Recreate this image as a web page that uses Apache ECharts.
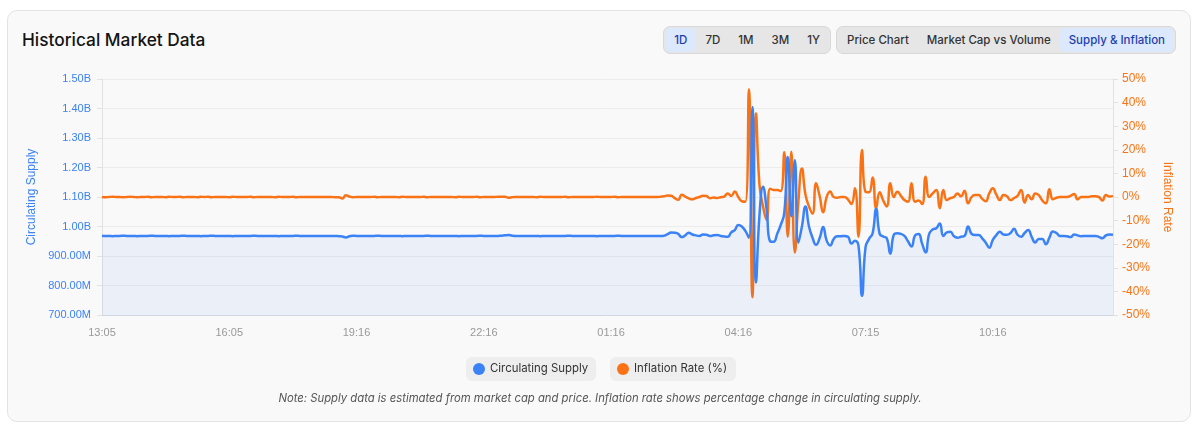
<!DOCTYPE html>
<html>
<head>
<meta charset="utf-8">
<script src="https://cdn.jsdelivr.net/npm/echarts@6/dist/echarts.min.js"></script>
<style>
  html, body { margin:0; padding:0; background:#ffffff; }
  body { width:1200px; height:431px; position:relative; overflow:hidden; font-family:Inter, "Noto Sans", sans-serif; }
  .card { position:absolute; left:7px; top:10px; width:1184px; height:412px; box-sizing:border-box;
          border:1px solid #e3e3e3; border-radius:10px; background:#f9f9f9; }
  .title { position:absolute; left:22px; top:29px; font-size:17.3px; font-weight:500; color:#141414; line-height:22px; }
  .btns { position:absolute; right:24px; top:26px; display:flex; gap:5px; }
  .group { display:flex; background:#e6e6e6; border:1px solid #d8d8d8; border-radius:7px; padding:1px; }
  .btn { padding:5px 9px; font-size:11.5px; font-weight:500; color:#333; line-height:14px; border-radius:5px; }
  .btn.active { background:#dce8fb; color:#1e40af; }
  #chart { position:absolute; left:0; top:0; width:1200px; height:431px; }
  .note { position:absolute; left:0; top:391px; width:1200px; text-align:center; font-size:11.3px; font-style:italic; color:#555; line-height:14px; }
</style>
</head>
<body>
<div class="card"></div>
<div class="title">Historical Market Data</div>
<div class="btns">
  <div class="group">
    <div class="btn active">1D</div><div class="btn">7D</div><div class="btn">1M</div><div class="btn">3M</div><div class="btn">1Y</div>
  </div>
  <div class="group">
    <div class="btn">Price Chart</div><div class="btn">Market Cap vs Volume</div><div class="btn active">Supply &amp; Inflation</div>
  </div>
</div>
<div id="chart"></div>
<div class="note">Note: Supply data is estimated from market cap and price. Inflation rate shows percentage change in circulating supply.</div>
<script>
// Time categories (5-minute samples)
const categories = (
 "13:05 13:10 13:15 13:20 13:25 13:30 13:35 13:40 13:45 13:50 13:55 14:00 14:05 14:10 14:15 14:20 14:25 14:30 14:35 14:40 14:45 14:50 14:55 15:00 15:05 15:10 15:15 15:20 15:25 15:30 15:35 15:40 15:45 15:50 15:55 16:00 " +
 "16:05 16:10 16:15 16:20 16:25 16:30 16:35 16:40 16:45 16:50 16:55 17:00 17:05 17:10 17:15 17:20 17:25 17:30 17:35 17:40 17:45 17:50 17:55 18:00 18:05 18:10 18:15 18:20 18:25 18:30 18:35 18:40 18:45 18:50 18:55 19:11 " +
 "19:16 19:21 19:26 19:31 19:36 19:41 19:46 19:51 19:56 20:01 20:06 20:11 20:16 20:21 20:26 20:31 20:36 20:41 20:46 20:51 20:56 21:01 21:06 21:11 21:16 21:21 21:26 21:31 21:36 21:41 21:46 21:51 21:56 22:01 22:06 22:11 " +
 "22:16 22:21 22:26 22:31 22:36 22:41 22:46 22:51 22:56 23:01 23:06 23:11 23:16 23:21 23:26 23:31 23:36 23:41 23:46 23:51 23:56 00:01 00:06 00:11 00:16 00:21 00:26 00:31 00:36 00:41 00:46 00:51 00:56 01:01 01:06 01:11 " +
 "01:16 01:21 01:26 01:31 01:36 01:41 01:46 01:51 01:56 02:01 02:06 02:11 02:16 02:21 02:26 02:31 02:36 02:41 02:46 02:51 02:56 03:01 03:06 03:11 03:16 03:21 03:26 03:31 03:36 03:41 03:46 03:51 03:56 04:01 04:06 04:11 " +
 "04:16 04:21 04:26 04:31 04:36 04:41 04:46 04:51 04:56 05:01 05:06 05:11 05:16 05:21 05:26 05:31 05:36 05:41 05:46 05:51 05:56 06:01 06:06 06:11 06:16 06:21 06:26 06:31 06:36 06:41 06:46 06:51 06:56 07:01 07:06 07:11 " +
 "07:15 07:20 07:25 07:30 07:35 07:40 07:45 07:50 07:55 08:00 08:05 08:10 08:15 08:20 08:25 08:30 08:35 08:40 08:45 08:50 08:55 09:00 09:05 09:10 09:15 09:20 09:25 09:30 09:35 09:40 09:45 09:50 09:55 10:00 10:05 10:10 " +
 "10:16 10:21 10:26 10:31 10:36 10:41 10:46 10:51 10:56 11:01 11:06 11:11 11:16 11:21 11:26 11:31 11:36 11:41 11:46 11:51 11:56 12:01 12:06 12:11 12:16 12:21 12:26 12:31 12:36 12:41 12:46 12:51 12:56 13:01 13:06"
).split(" ");

// x-axis tick labels shown
const xTickLabels = ["13:05","16:05","19:16","22:16","01:16","04:16","07:15","10:16"];

// Circulating supply, in millions
const supply = [
969,968,968,967,968,968,969,968,968,968,
967,968,968,968,969,968,968,968,968,967,
968,968,968,969,968,968,968,968,967,968,
968,969,968,968,968,968,968,967,968,968,
968,968,968,969,968,968,968,968,968,968,
967,968,968,968,968,969,968,968,968,968,
968,968,968,968,968,968,968,967,966,963,
967,969,968,968,968,968,968,968,969,968,
968,968,968,968,968,967,968,968,968,968,
968,968,969,968,968,968,968,968,968,968,
968,967,968,968,968,968,968,969,968,968,
968,968,968,969,970,971,969,968,968,968,
968,968,968,968,967,968,968,968,968,968,
968,968,969,968,968,968,968,968,968,968,
967,968,968,968,968,968,969,968,968,968,
968,968,968,968,968,968,968,968,968,969,
974,980,979,975,964,970,979,973,970,968,
973,972,968,970,971,968,966,965,980,988,
1005,1000,985,962,1405,810,1040,1135,1060,950,
948,975,1005,1045,1236,1035,1225,945,1000,1068,
1000,962,938,960,998,952,936,958,967,967,
968,966,942,952,935,765,930,958,977,1060,
975,966,960,908,972,977,975,968,950,932,
970,975,942,912,975,990,994,1010,968,980,
982,967,962,965,968,1000,975,971,971,960,
945,928,955,971,982,973,972,978,992,972,
965,978,988,965,946,958,958,940,962,983,
978,968,968,967,964,973,970,967,968,968,
968,968,965,960,970,973,972
];

// Inflation rate, percent
const inflation = [
0,-0.1,0,0.1,0,0,-0.1,0,0.1,0,
-0.1,0,0,0.1,-0.1,0,0,0,-0.1,0.1,
0,0,0.1,-0.1,0,0,0,-0.1,0.1,0,
0.1,-0.1,0,0,0,0,-0.1,0.1,0,0,
0,0,0.1,-0.1,0,0,0,0,0,-0.1,
0.1,0,0,0,0.1,-0.1,0,0,0,0,
0,0,0,0,0,0,-0.1,-0.1,-0.6,0.7,
0.2,-0.1,0,0,0,0,0,0.1,-0.1,0,
0,0,0,0,-0.1,0.1,0,0,0,0,
0,0.1,-0.1,0,0,0,0,0,0,0,
-0.1,0.1,0,0,0,0,0.1,-0.1,0,0,
0,0,0.1,0.1,0.1,-0.3,-0.1,0,0,0,
0,0,0,-0.1,0.1,0,0,0,0,0,
0,0.1,-0.1,0,0,0,0,0,0,0,
0.1,0,0,0,0,0.1,-0.1,0,0,0,
0,0,0,0,0,0,0,0,0.1,0.3,
0.6,0.5,-0.5,-1.2,1.0,0.2,-0.6,-1.0,-0.4,0,
0.5,0.4,-0.5,-0.2,-0.4,-0.1,0.2,1.5,0.4,2.3,
0,-1.8,-2.0,45.7,-42.5,35.5,5,-4,-9.7,3.5,
3.0,3.0,2.5,19,-16.8,19.2,-23.5,-2,12.1,1.0,
-4.0,-7.0,5.8,0.5,-6.5,0,2.3,0,-0.3,0,
0,-1,-3,3.7,-16.8,19.9,2.2,2.0,8.3,-4.8,
2.0,-1.5,-4.0,5.8,0,2.2,0.5,-1.3,-2.0,5.8,
-2.0,-1.5,-3.0,8.6,0,1.5,3.0,-4.8,3.0,-1.3,
-0.5,0,1.5,0.3,2.7,-2.7,0,0.8,0.8,-0.8,
-1.8,1.5,3.7,1.0,-1.3,0.8,0.3,-1.3,-0.5,0.5,
3.0,-2.4,0.8,-1.0,1.5,0.8,-1.5,-2.7,3.3,-1.0,
-0.3,0,0,0,0.5,1.3,-1.0,0,0,0,
0.3,0.3,0,-1.5,0.8,0.2,0.5
];

const BLUE = '#3b82f6', ORANGE = '#f97316';
const chart = echarts.init(document.getElementById('chart'), null, {renderer:'canvas'});
const axisFont = '"Liberation Sans", Arial, sans-serif';
chart.setOption({
  animation:false,
  backgroundColor:'transparent',
  grid:{left:102, right:87, top:79, bottom:116},
  legend:[
    {data:['Circulating Supply'], left:466, top:357, padding:[6,8,6,7], backgroundColor:'#eeeeee', borderRadius:6,
     icon:'circle', itemWidth:12, itemHeight:12, textStyle:{fontFamily:'Inter', fontSize:11.4, color:'#333'}},
    {data:['Inflation Rate (%)'], left:610, top:357, padding:[6,9,6,7], backgroundColor:'#eeeeee', borderRadius:6,
     icon:'circle', itemWidth:12, itemHeight:12, textStyle:{fontFamily:'Inter', fontSize:11.4, color:'#333'}}
  ],
  xAxis:{
    type:'category', data:categories, boundaryGap:false,
    axisLine:{onZero:false, lineStyle:{color:'#cfd6e4'}},
    axisTick:{show:false},
    axisLabel:{color:'#999', fontSize:11, fontFamily:axisFont, margin:12,
      interval:function(i, v){ return xTickLabels.indexOf(v) >= 0; }},
    splitLine:{show:false}
  },
  yAxis:[
    {type:'value', position:'left', min:700, max:1500, interval:100,
     name:'Circulating Supply', nameLocation:'middle', nameGap:61,
     nameTextStyle:{color:BLUE, fontSize:12, fontFamily:axisFont},
     axisLine:{show:true, lineStyle:{color:'#e2e2e2'}},
     axisTick:{show:true, length:5, lineStyle:{color:'#e2e2e2'}},
     axisLabel:{color:BLUE, fontSize:11, fontFamily:axisFont, margin:11,
       formatter:function(v){ return v >= 1000 ? (v/1000).toFixed(2)+'B' : v.toFixed(2)+'M'; }},
     splitLine:{show:true, lineStyle:{color:'#ececec'}}},
    {type:'value', position:'right', min:-50, max:50, interval:10,
     name:'Inflation Rate', nameLocation:'middle', nameGap:41, nameRotate:-90,
     nameTextStyle:{color:ORANGE, fontSize:12, fontFamily:axisFont},
     axisLine:{show:true, lineStyle:{color:'#e2e2e2'}},
     axisTick:{show:true, length:5, lineStyle:{color:'#e2e2e2'}},
     axisLabel:{color:ORANGE, fontSize:12, fontFamily:axisFont, margin:9,
       formatter:function(v){ return v + '%'; }},
     splitLine:{show:false}}
  ],
  series:[
    {name:'Inflation Rate (%)', type:'line', yAxisIndex:1, data:inflation, smooth:true, showSymbol:false,
     lineStyle:{width:2.5, color:ORANGE}, itemStyle:{color:ORANGE}, z:2},
    {name:'Circulating Supply', type:'line', yAxisIndex:0, data:supply, smooth:true, showSymbol:false,
     lineStyle:{width:2.5, color:BLUE}, itemStyle:{color:BLUE},
     areaStyle:{color:'rgba(59,130,246,0.1)'}, z:3}
  ]
});
</script>
</body>
</html>
